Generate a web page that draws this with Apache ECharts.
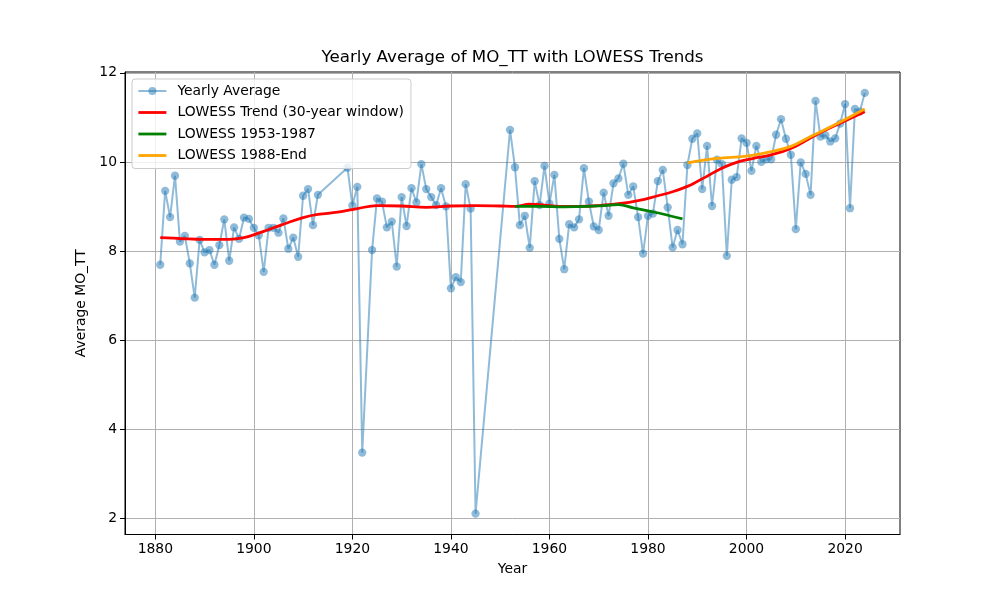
<!DOCTYPE html>
<html>
<head>
<meta charset="utf-8">
<script src="https://cdn.jsdelivr.net/npm/echarts@6/dist/echarts.min.js"></script>
<style>html,body{margin:0;padding:0;background:#fff;}#c{width:1000px;height:600px;}</style>
</head>
<body>
<div id="c"></div>
<script>
const years = [1881,1882,1883,1884,1885,1886,1887,1888,1889,1890,1891,1892,1893,1894,1895,1896,1897,1898,1899,1900,
1901,1902,1903,1904,1905,1906,1907,1908,1909,1910,1911,1912,1913,1919,1920,1921,1922,
1924,1925,1926,1927,1928,1929,1930,1931,1932,1933,1934,1935,1936,1937,1938,1939,1940,1941,1942,1943,1944,1945,
1952,1953,1954,1955,1956,1957,1958,1959,1960,1961,1962,1963,1964,1965,1966,1967,1968,1969,1970,
1971,1972,1973,1974,1975,1976,1977,1978,1979,1980,1981,1982,1983,1984,1985,1986,1987,1988,1989,1990,
1991,1992,1993,1994,1995,1996,1997,1998,1999,2000,2001,2002,2003,2004,2005,2006,2007,2008,2009,2010,
2011,2012,2013,2014,2015,2016,2017,2018,2019,2020,2021,2022,2023,2024];
const yearlyAvg = [7.69,9.35,8.76,9.69,8.21,8.34,7.72,6.95,8.25,7.97,8.02,7.69,8.13,8.71,7.78,8.53,8.27,8.75,8.72,8.52,
8.35,7.53,8.52,8.52,8.41,8.73,8.05,8.30,7.87,9.24,9.39,8.58,9.26,9.87,9.02,9.44,3.47,
8.02,9.18,9.11,8.53,8.66,7.65,9.21,8.56,9.41,9.09,9.95,9.39,9.21,9.03,9.41,9.00,7.16,7.41,7.30,9.50,8.95,2.10,
10.72,9.88,8.58,8.79,8.07,9.57,9.03,9.91,9.06,9.71,8.27,7.59,8.60,8.53,8.71,9.86,9.11,8.55,8.47,
9.31,8.79,9.52,9.63,9.96,9.26,9.45,8.76,7.94,8.79,8.84,9.57,9.82,8.98,8.08,8.47,8.15,9.93,10.52,10.64,
9.39,10.36,9.01,10.05,9.95,7.89,9.60,9.66,10.53,10.43,9.80,10.36,10.00,10.06,10.06,10.61,10.96,10.52,10.16,8.49,
9.99,9.73,9.26,11.37,10.57,10.60,10.46,10.53,10.86,11.30,8.96,11.19,11.13,11.55];

const lowessAllYears = [1881,1885,1890,1895,1898,1901,1904,1907,1910,1913,1917,1921,1925,1930,1935,1940,1945,1950,1953,1956,1959,1962,1966,1970,1974,1978,1982,1985,1988,1990,1992,1995,1998,2001,2005,2009,2014,2019,2024];
const lowessAllVals  = [8.30,8.28,8.26,8.26,8.30,8.40,8.52,8.64,8.75,8.82,8.87,8.95,9.02,9.01,8.98,9.01,9.02,9.01,9.00,9.05,9.03,9.00,9.00,9.02,9.06,9.13,9.24,9.33,9.45,9.56,9.68,9.86,9.99,10.07,10.16,10.30,10.60,10.87,11.13];

const lowessEarlyYears = [1953,1958,1963,1968,1971,1974,1977,1980,1983,1987];
const lowessEarlyVals  = [9.00,9.00,8.99,9.00,9.02,9.04,8.97,8.90,8.83,8.72];

const lowessLateYears = [1988,1994,2000,2005,2009,2013,2018,2024];
const lowessLateVals  = [9.98,10.08,10.13,10.23,10.35,10.57,10.84,11.19];

const xTicks = [1880,1900,1920,1940,1960,1980,2000,2020];
const yTicks = [2,4,6,8,10,12];

const zip = (a,b) => a.map((v,i)=>[v,b[i]]);
const FONT = 'DejaVu Sans';

const chart = echarts.init(document.getElementById('c'), null, {renderer:'canvas'});
chart.setOption({
  animation: false,
  backgroundColor: '#fff',
  textStyle: {fontFamily: FONT},
  title: {
    text: 'Yearly Average of MO_TT with LOWESS Trends',
    left: 512.5, top: 49, padding: 0, textAlign: 'center',
    textStyle: {fontFamily: FONT, fontSize: 16.7, fontWeight: 'normal', color: '#000'}
  },
  grid: {left:125, top:72, right:100, bottom:65.5, show:true, borderColor:'#000', borderWidth:1, backgroundColor:'#fff'},
  legend: {
    orient: 'vertical', left: 132, top: 79,
    padding: [4, 7, 5, 5], itemGap: 5.5, itemWidth: 28, itemHeight: 10,
    backgroundColor: 'rgba(255,255,255,0.8)', borderColor: '#cccccc', borderWidth: 1, borderRadius: 3,
    textStyle: {fontFamily: FONT, fontSize: 13.9, color: '#000', padding: [0,0,0,6], lineHeight: 16},
    data: [
      {name: 'Yearly Average'},
      {name: 'LOWESS Trend (30-year window)', lineStyle: {width: 2.8}},
      {name: 'LOWESS 1953-1987', lineStyle: {width: 2.8}},
      {name: 'LOWESS 1988-End', lineStyle: {width: 2.8}}
    ]
  },
  xAxis: {
    type: 'value', min: 1873.85, max: 2031.15,
    name: 'Year', nameLocation: 'middle', nameGap: 28,
    nameTextStyle: {fontFamily: FONT, fontSize: 13.9, color: '#000'},
    axisLine: {show: true, lineStyle: {color: '#000', width: 1}},
    axisTick: {show: true, inside: false, length: 5, lineStyle: {color: '#000', width: 1}, customValues: xTicks},
    axisLabel: {customValues: xTicks, formatter: v => String(v), fontFamily: FONT, fontSize: 13.9, color: '#000', margin: 8},
    splitLine: {show: true, lineStyle: {color: '#b0b0b0', width: 1}}
  },
  yAxis: {
    type: 'value', min: 1.63, max: 12.02,
    name: 'Average MO_TT', nameLocation: 'middle', nameGap: 33, nameRotate: 90,
    nameTextStyle: {fontFamily: FONT, fontSize: 13.9, color: '#000'},
    axisLine: {show: true, lineStyle: {color: '#000', width: 1}},
    axisTick: {show: true, inside: false, length: 5, lineStyle: {color: '#000', width: 1}, customValues: yTicks},
    axisLabel: {customValues: yTicks, formatter: v => String(v), fontFamily: FONT, fontSize: 13.9, color: '#000', margin: 8},
    splitLine: {show: true, lineStyle: {color: '#b0b0b0', width: 1}}
  },
  series: [
    {
      name: 'Yearly Average', type: 'line', data: zip(years, yearlyAvg),
      symbol: 'circle', symbolSize: 8.3, showSymbol: true,
      lineStyle: {color: '#1f77b4', width: 2, opacity: 0.5},
      itemStyle: {color: '#1f77b4', opacity: 0.5},
      z: 2
    },
    {
      name: 'LOWESS Trend (30-year window)', type: 'line', data: zip(lowessAllYears, lowessAllVals),
      symbol: 'line', showSymbol: false, smooth: 0.4, lineStyle: {color: '#ff0000', width: 2.8}, itemStyle: {color: '#ff0000'}, z: 3
    },
    {
      name: 'LOWESS 1953-1987', type: 'line', data: zip(lowessEarlyYears, lowessEarlyVals),
      symbol: 'line', showSymbol: false, smooth: 0.4, lineStyle: {color: '#008000', width: 2.8}, itemStyle: {color: '#008000'}, z: 4
    },
    {
      name: 'LOWESS 1988-End', type: 'line', data: zip(lowessLateYears, lowessLateVals),
      symbol: 'line', showSymbol: false, smooth: 0.4, lineStyle: {color: '#ffa500', width: 2.8}, itemStyle: {color: '#ffa500'}, z: 5
    }
  ]
});
</script>
</body>
</html>
